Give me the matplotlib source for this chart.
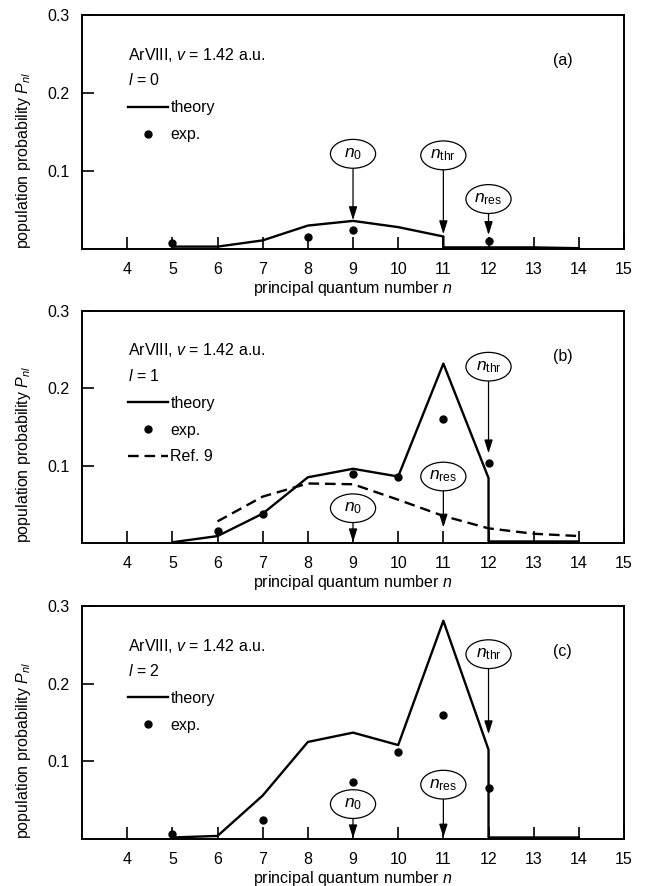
import matplotlib
matplotlib.use('Agg')
import matplotlib.pyplot as plt
from matplotlib.patches import Ellipse

plt.rcParams['font.family'] = ['Liberation Sans', 'DejaVu Sans']
plt.rcParams['font.size'] = 11.5
plt.rcParams['mathtext.fontset'] = 'custom'
plt.rcParams['mathtext.rm'] = 'Liberation Sans'
plt.rcParams['mathtext.it'] = 'Liberation Sans:italic'

# (a) l = 0 ; repeated n marks the vertical drop at the threshold
n_theory_a = [5, 6, 7, 8, 9, 10, 11, 11, 12, 13, 14]
p_theory_a = [0.003, 0.003, 0.011, 0.030, 0.036, 0.028, 0.016, 0.002, 0.002, 0.002, 0.001]
n_exp_a = [5, 8, 9, 12]
p_exp_a = [0.008, 0.015, 0.024, 0.010]

# (b) l = 1
n_theory_b = [5, 6, 7, 8, 9, 10, 11, 12, 12, 13, 14]
p_theory_b = [0.001, 0.009, 0.038, 0.085, 0.096, 0.086, 0.232, 0.084, 0.002, 0.002, 0.002]
n_exp_b = [6, 7, 9, 10, 11, 12]
p_exp_b = [0.016, 0.038, 0.089, 0.086, 0.160, 0.104]
n_ref9_b = [6, 7, 8, 9, 10, 11, 12, 13, 14]
p_ref9_b = [0.028, 0.060, 0.077, 0.076, 0.056, 0.035, 0.019, 0.012, 0.009]

# (c) l = 2
n_theory_c = [5, 6, 7, 8, 9, 10, 11, 12, 12, 13, 14]
p_theory_c = [0.002, 0.004, 0.056, 0.125, 0.137, 0.121, 0.281, 0.115, 0.002, 0.002, 0.002]
n_exp_c = [5, 7, 9, 10, 11, 12]
p_exp_c = [0.006, 0.024, 0.073, 0.112, 0.160, 0.066]

x_ticks = list(range(4, 16))
y_ticks = [0.1, 0.2, 0.3]

# labelled arrows: (subscript, n, ellipse centre, arrow tip)
marks_a = [('0', 9, 0.122, 0.037), ('thr', 11, 0.120, 0.019), ('res', 12, 0.064, 0.018)]
marks_b = [('thr', 12, 0.228, 0.116), ('res', 11, 0.086, 0.020), ('0', 9, 0.045, 0.001)]
marks_c = [('thr', 12, 0.238, 0.135), ('res', 11, 0.070, 0.002), ('0', 9, 0.045, 0.001)]

panels = [
    dict(tag='(a)', l=0, theory=(n_theory_a, p_theory_a), exp=(n_exp_a, p_exp_a),
         ref9=None, marks=marks_a, rect=[0.1258, 0.7190, 0.8313, 0.2641]),
    dict(tag='(b)', l=1, theory=(n_theory_b, p_theory_b), exp=(n_exp_b, p_exp_b),
         ref9=(n_ref9_b, p_ref9_b), marks=marks_b, rect=[0.1258, 0.3871, 0.8313, 0.2619]),
    dict(tag='(c)', l=2, theory=(n_theory_c, p_theory_c), exp=(n_exp_c, p_exp_c),
         ref9=None, marks=marks_c, rect=[0.1258, 0.0530, 0.8313, 0.2630]),
]

ell_w, ell_h = 1.0, 0.037

fig = plt.figure(figsize=(6.52, 8.86), dpi=100)

for pan in panels:
    ax = fig.add_axes(pan['rect'])
    ax.plot(*pan['theory'], color='black', lw=1.7, label='theory')
    ax.plot(*pan['exp'], ls='none', marker='o', ms=5, color='black', label='exp.')
    if pan['ref9'] is not None:
        ax.plot(*pan['ref9'], color='black', lw=1.7, ls=(0, (4.5, 2.5)), label='Ref. 9')

    for sub, n, ey, tip in pan['marks']:
        ax.add_patch(Ellipse((n, ey), ell_w, ell_h, fc='white', ec='black', lw=0.9, zorder=4))
        ax.text(n, ey, r'$n_{\mathrm{%s}}$' % sub, ha='center', va='center',
                fontsize=12.5, zorder=5)
        ax.annotate('', xy=(n, tip), xytext=(n, ey - ell_h / 2),
                    arrowprops=dict(arrowstyle='-|>,head_length=0.7,head_width=0.22',
                                    color='black', lw=0.9, shrinkA=0, shrinkB=0))

    ax.set_xlim(3, 15)
    ax.set_ylim(0, 0.3)
    ax.set_xticks(x_ticks)
    ax.set_yticks(y_ticks)
    ax.set_yticklabels(['0.1', '0.2', '0.3'])
    ax.tick_params(axis='x', direction='in', length=8.5, width=1.2, pad=9.5)
    ax.tick_params(axis='y', direction='in', length=8.5, width=1.2, pad=9)
    for sp in ax.spines.values():
        sp.set_linewidth(1.4)

    ax.set_xlabel(r'principal quantum number $n$', labelpad=1)
    ax.set_ylabel(r'population probability $P_{nl}$', loc='bottom', labelpad=10)

    ax.text(0.085, 0.83, r'ArVIII, $v$ = 1.42 a.u.', transform=ax.transAxes, va='center')
    ax.text(0.085, 0.72, r'$l$ = %d' % pan['l'], transform=ax.transAxes, va='center')
    ax.text(0.887, 0.805, pan['tag'], transform=ax.transAxes, ha='center', va='center')
    ax.legend(loc='upper left', bbox_to_anchor=(0.085, 0.635), frameon=False,
              borderpad=0, borderaxespad=0, handlelength=2.5, handletextpad=0.15,
              labelspacing=0.74, numpoints=1)

fig.savefig('out.png', dpi=100)
